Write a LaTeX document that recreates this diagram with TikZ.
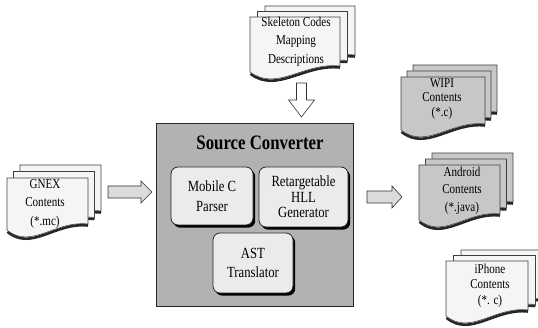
\documentclass[tikz,border=0pt]{standalone}
\usepackage{fontspec}
\setmainfont{Liberation Serif}
\usepackage{graphicx}
\usetikzlibrary{shadows}

% horizontally condensed text
\newcommand\sx[1]{\scalebox{0.82}[1]{#1}}

% one sheet of a document stack: x, y (top-left), width, height, fill
\newcommand\docpage[5]{%
  \draw[sheetshadow] ({#1+#3},{#2+#4-4.5}) .. controls ({#1+0.6*#3},{#2+#4-8.2}) and ({#1+0.3*#3},{#2+#4+21.8}) .. ({#1+0.5},{#2+#4+1.8});
  \filldraw[docsheet=#5] ({#1},{#2}) -- ({#1+#3},{#2}) -- ({#1+#3},{#2+#4-6})
    .. controls ({#1+0.6*#3},{#2+#4-10}) and ({#1+0.3*#3},{#2+#4+20}) .. ({#1},{#2+#4}) -- cycle;
}
% three stacked sheets: x, y, width, height, dx, dy, fill
\newcommand\docstack[7]{%
  \docpage{#1+2*#5}{#2-2*#6}{#3}{#4}{#7}%
  \docpage{#1+#5}{#2-#6}{#3}{#4}{#7}%
  \docpage{#1}{#2}{#3}{#4}{#7}%
}

\begin{document}
\begin{tikzpicture}[x=1pt,y=-1pt,
  docsheet/.style={fill=#1, draw=black!75, line width=0.55pt},
  sheetshadow/.style={draw=black!85, line width=2.6pt},
  doctext/.style={align=center, inner sep=0pt},
  module/.style={draw=black!85, line width=0.8pt, fill=black!8, rounded corners=7pt,
    align=center, inner sep=0pt,
    drop shadow={shadow xshift=2.2pt, shadow yshift=-2.6pt, fill=black, opacity=1}},
  blockarrow/.style={draw=black!80, line width=0.6pt, fill=black!14},
]
\useasboundingbox (0,0) rectangle (538,328);
\clip (0,0) rectangle (538,328);

% ---- document stacks ----
\docstack{250}{17}{90}{55}{7.5}{5.5}{black!4}
\node[doctext, font=\fontsize{13.5}{18.5}\selectfont] (skel) at (296,41.5)
  {\sx{Skeleton Codes}\\\sx{Mapping}\\\sx{Descriptions}};

\docstack{7}{178}{81}{52}{6.5}{6.5}{black!4}
\node[doctext, font=\fontsize{13.5}{18.5}\selectfont] (gnex) at (45,203.5)
  {\sx{GNEX}\\\sx{Contents}\\\sx{(*.mc)}};

\docstack{401}{77}{84}{53}{6}{6}{black!22}
\node[doctext, font=\fontsize{13.5}{14.5}\selectfont] (wipi) at (442,99)
  {\sx{WIPI}\\\sx{Contents}\\\sx{(*.c)}};

\docstack{419}{165}{81}{55}{6.5}{6}{black!22}
\node[doctext, font=\fontsize{13.5}{17.5}\selectfont] (android) at (462,190.5)
  {\sx{Android}\\\sx{Contents}\\\sx{(*.java)}};

\docstack{446}{261}{82}{55}{7.5}{5.5}{black!4}
\node[doctext, font=\fontsize{13.5}{15.5}\selectfont] (iphone) at (490,285.5)
  {\sx{iPhone}\\\sx{Contents}\\\sx{(*. c)}};

% ---- source converter ----
\node[draw=black!85, line width=0.8pt, fill=black!30, minimum width=197pt,
      minimum height=183pt, inner sep=0pt] (conv) at (254.5,214.5) {};
\node[inner sep=0pt, font=\bfseries\fontsize{20.5}{24}\selectfont] (title) at (260,143)
  {\sx{Source Converter}};

\node[module, minimum width=82pt, minimum height=58pt,
      font=\fontsize{15.5}{20.5}\selectfont] (parser) at (212,196)
  {\sx{Mobile C}\\\sx{Parser}};
\node[module, minimum width=89pt, minimum height=60pt,
      font=\fontsize{15.5}{15.5}\selectfont] (hllgen) at (303.5,197)
  {\sx{Retargetable}\\\sx{HLL}\\\sx{Generator}};
\node[module, minimum width=80pt, minimum height=60pt,
      font=\fontsize{15.5}{18.5}\selectfont] (ast) at (253,263)
  {\sx{AST}\\\sx{Translator}};

% ---- block arrows ----
\coordinate (inTail) at (108,192);
\coordinate (inTip) at (152,192);
\draw[blockarrow] (inTail) ++(0,-6) -- ++(33,0) -- ++(0,-5) -- (inTip)
  -- ++(-11,11) -- ++(0,-5) -- ++(-33,0) -- cycle;

\coordinate (outTail) at (367,197);
\coordinate (outTip) at (402,197);
\draw[blockarrow] (outTail) ++(0,-6) -- ++(25,0) -- ++(0,-5) -- (outTip)
  -- ++(-10,11) -- ++(0,-5) -- ++(-25,0) -- cycle;

\coordinate (mapTail) at (301.5,83);
\coordinate (mapTip) at (301.5,117);
\draw[blockarrow, fill=white] (mapTail) ++(-5,0) -- ++(0,17) -- ++(-8,0) -- (mapTip)
  -- ++(13,-17) -- ++(-8,0) -- ++(0,-17) -- cycle;
\end{tikzpicture}
\end{document}
